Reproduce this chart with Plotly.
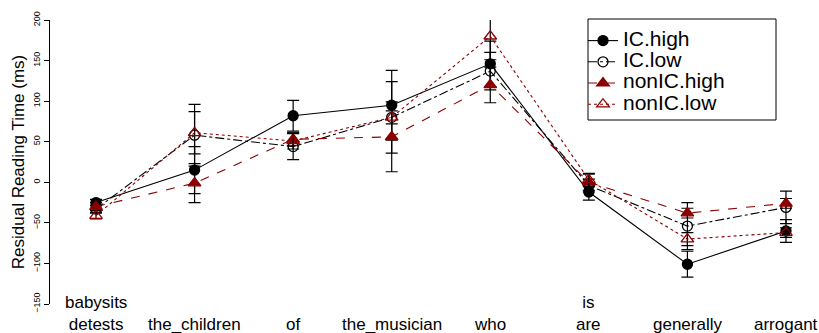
import plotly.graph_objects as go

# ---- data ----
positions = [1, 2, 3, 4, 5, 6, 7, 8]
region_labels = ["babysits<br>detests", "the_children", "of", "the_musician",
                 "who", "is<br>are", "generally", "arrogant"]

ic_high = [-25, 15, 82, 95, 146, -12, -101, -60]
ic_high_err = [4, 29, 19, 43, 28, 10, 16, 14]

ic_low = [-33, 58, 44, 80, 137, -4, -54, -31]
ic_low_err = [5, 38, 16, 44, 23, 8, 29, 20]

nonic_high = [-30, -1, 53, 56, 120, 0, -38, -26]
nonic_high_err = [5, 24, 8, 43, 22, 10, 6, 6]

nonic_low = [-41, 61, 51, 80, 180, 3, -70, -62]
nonic_low_err = [4, 26, 10, 8, 29, 8, 8, 6]

series_names = ["IC.high", "IC.low", "nonIC.high", "nonIC.low"]
y_ticks = [-150, -100, -50, 0, 50, 100, 150, 200]

BLACK = "#000000"
DARKRED = "#8B0000"

styles = [
    dict(color=BLACK, dash="solid", symbol="circle", fill=BLACK, size=10),
    dict(color=BLACK, dash="dashdot", symbol="circle-open", fill=BLACK, size=10),
    dict(color=DARKRED, dash="dash", symbol="triangle-up", fill=DARKRED, size=11),
    dict(color=DARKRED, dash="dot", symbol="triangle-up-open", fill=DARKRED, size=11),
]
values = [ic_high, ic_low, nonic_high, nonic_low]
errors = [ic_high_err, ic_low_err, nonic_high_err, nonic_low_err]

fig = go.Figure()
for name, vals, errs, st in zip(series_names, values, errors, styles):
    fig.add_trace(go.Scatter(
        x=positions, y=vals, mode="lines+markers",
        name='<span style="font-size:21px">' + name + "</span>",
        line=dict(color=st["color"], width=1.1, dash=st["dash"]),
        marker=dict(symbol=st["symbol"], size=st["size"], color=st["fill"],
                    line=dict(color=st["color"], width=1.3)),
        error_y=dict(type="data", array=errs, visible=True, color=BLACK,
                     thickness=1.2, width=6),
        cliponaxis=False,
    ))

annotations = []
for xv, lab in zip(positions, region_labels):
    annotations.append(dict(
        x=xv, xref="x", y=0, yref="paper", yanchor="bottom", yshift=-32,
        text=lab, showarrow=False, font=dict(size=17, color=BLACK),
    ))

W, H = 819, 333
L, R, T, B = 50, 0, 20, 29
pw, ph = W - L - R, H - T - B

def px_x(p):
    return (p - L) / pw

def px_y(p):
    return (H - B - p) / ph

fig.update_layout(
    width=W, height=H,
    margin=dict(l=L, r=R, t=T, b=B, pad=0),
    paper_bgcolor="white", plot_bgcolor="white",
    font=dict(family="Liberation Sans, Arial, sans-serif", color=BLACK),
    showlegend=True,
    legend=dict(
        x=px_x(583), y=px_y(25), xanchor="left", yanchor="top",
        bgcolor="rgba(0,0,0,0)", borderwidth=0,
        font=dict(size=14, color=BLACK), itemwidth=30,
        tracegroupgap=0,
    ),
    xaxis=dict(range=[0.5333, 8.335], showgrid=False, zeroline=False,
               showline=False, showticklabels=False, ticks=""),
    yaxis=dict(range=[-150, 200], tickvals=y_ticks, showgrid=False,
               zeroline=False, showline=True, linecolor=BLACK, linewidth=1,
               ticks="outside", ticklen=5, tickwidth=1, tickcolor=BLACK,
               tickangle=-90, tickfont=dict(size=9, color=BLACK),
               title=dict(text="Residual Reading Time (ms)",
                          font=dict(size=17, color=BLACK), standoff=3)),
    annotations=annotations,
    shapes=[dict(type="rect", xref="paper", yref="paper",
                 x0=px_x(588), x1=px_x(776), y0=px_y(120), y1=px_y(19),
                 line=dict(color=BLACK, width=1), layer="above")],
)

fig.write_html("out.html")
